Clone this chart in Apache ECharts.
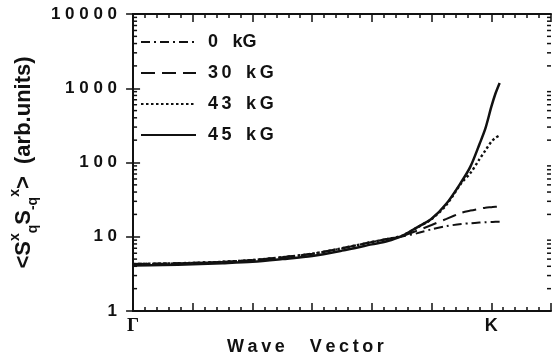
<!DOCTYPE html>
<html>
<head>
<meta charset="utf-8">
<script src="https://cdn.jsdelivr.net/npm/echarts@6.0.0/dist/echarts.min.js"></script>
<style>
  html, body { margin: 0; padding: 0; background: #fff; }
  #main { width: 557px; height: 360px; }
</style>
</head>
<body>
<div id="main"></div>
<script>
// wave vector position, Γ = 0, K = 6
var waveVector = [0, 0.5, 1, 1.5, 2, 2.5, 3, 3.5, 4, 4.25, 4.5, 4.75, 5, 5.25, 5.5, 5.65, 5.8, 5.9, 6.0, 6.07, 6.14];
// <SqxS-qx> (arb.units) for each field
var field0 = [4.3, 4.35, 4.45, 4.6, 4.85, 5.3, 5.9, 7.0, 8.5, 9.3, 10.1, 11.1, 12.6, 13.9, 14.9, 15.2, 15.5, 15.7, 15.8, 15.9, 15.9];
var field30 = [4.3, 4.35, 4.45, 4.6, 4.85, 5.3, 5.9, 7.0, 8.5, 9.3, 10.2, 12.0, 14.4, 17.4, 21, 22.5, 23.8, 24.6, 25.0, 25.3, 25.4];
var field43 = [4.3, 4.35, 4.45, 4.6, 4.85, 5.3, 5.9, 7.0, 8.5, 9.3, 10.3, 13.2, 17.3, 27, 53, 72, 110, 145, 190, 215, 232];
var field45 = [4.1, 4.15, 4.25, 4.4, 4.6, 5.0, 5.5, 6.5, 7.9, 8.7, 10.2, 13.3, 17.5, 28, 55, 88, 175, 285, 560, 850, 1180];
var seriesNames = ['0\u2009\u2009\u2009\u2009kG', '3\u20090\u2009\u2009\u2009\u2009k\u2009G', '4\u20093\u2009\u2009\u2009\u2009k\u2009G', '4\u20095\u2009\u2009\u2009\u2009k\u2009G'];
// log minor ticks on the y frame
var logMinorTicks = [2, 3, 4, 5, 6, 7, 8, 9, 20, 30, 40, 50, 60, 70, 80, 90,
  200, 300, 400, 500, 600, 700, 800, 900, 2000, 3000, 4000, 5000, 6000, 7000, 8000, 9000];

var ink = '#111';
var font = 'Liberation Sans';

function pairs(ys) {
  return waveVector.map(function (x, i) { return [x, ys[i]]; });
}

var chart = echarts.init(document.getElementById('main'));

var xBase = {
  type: 'value', min: 0, max: 7, interval: 1,
  axisLine: { lineStyle: { color: ink, width: 2 } },
  axisTick: { inside: true, length: 8, lineStyle: { color: ink, width: 1.5 } },
  minorTick: { show: true, splitNumber: 5, length: 4, lineStyle: { color: ink, width: 1.5 } },
  splitLine: { show: false }
};
var yBase = {
  type: 'log', logBase: 10, min: 1, max: 10000,
  axisLine: { lineStyle: { color: ink, width: 2 } },
  axisTick: { inside: true, length: 7, lineStyle: { color: ink, width: 1.5 } },
  splitLine: { show: false }
};

var lineStyles = [
  { type: [9, 4, 2, 4], width: 2 },
  { type: [14, 7], width: 2 },
  { type: [2.5, 2.5], width: 2.4 },
  { type: 'solid', width: 2.5 }
];
var fieldData = [field0, field30, field43, field45];

var series = fieldData.map(function (d, i) {
  return {
    name: seriesNames[i],
    type: 'line',
    data: pairs(d),
    smooth: 0.3,
    symbol: 'none',
    lineStyle: { color: ink, width: lineStyles[i].width, type: lineStyles[i].type },
    itemStyle: { color: ink }
  };
});

series.push({
  type: 'custom',
  silent: true,
  data: logMinorTicks.map(function (v) { return [0, v]; }),
  renderItem: function (params, api) {
    var v = api.value(1);
    var l = api.coord([0, v]);
    var r = api.coord([7, v]);
    return {
      type: 'group',
      children: [
        { type: 'line', shape: { x1: l[0], y1: l[1], x2: l[0] + 4, y2: l[1] }, style: { stroke: ink, lineWidth: 1.5 } },
        { type: 'line', shape: { x1: r[0], y1: r[1], x2: r[0] - 4, y2: r[1] }, style: { stroke: ink, lineWidth: 1.5 } }
      ]
    };
  }
});

chart.setOption({
  animation: false,
  backgroundColor: '#fff',
  grid: { left: 121, top: 14, width: 430, height: 297 },
  legend: {
    orient: 'vertical', left: 135, top: 28,
    itemWidth: 55, itemHeight: 14, itemGap: 13,
    itemStyle: { opacity: 0 },
    textStyle: { fontSize: 18, fontWeight: 'bold', color: ink, fontFamily: font, padding: [0, 0, 0, 7] },
    data: seriesNames
  },
  xAxis: [
    Object.assign({}, xBase, {
      position: 'bottom',
      axisLabel: {
        margin: 6, fontSize: 18, fontWeight: 'bold', color: ink, fontFamily: font,
        formatter: function (v) { return v === 0 ? '{g|Γ}' : (v === 6 ? 'K' : ''); },
        rich: { g: { fontFamily: 'Liberation Serif', fontSize: 19, color: ink } }
      }
    }),
    Object.assign({}, xBase, { position: 'top', axisLabel: { show: false } })
  ],
  yAxis: [
    Object.assign({}, yBase, {
      position: 'left',
      axisLabel: {
        margin: 16, fontSize: 17, fontWeight: 'bold', color: ink, fontFamily: font,
        formatter: function (v) { return String(Math.round(v)).split('').join(' '); }
      },
      name: '{m|<S}{sup|x}{sub|q}{m|S}{sub|-q}{sup|x}{m|>  (arb.units)}',
      nameLocation: 'middle',
      nameRotate: 90,
      nameGap: 80,
      nameTextStyle: {
        rich: {
          m: { fontSize: 22, fontWeight: 'bold', color: ink, fontFamily: font, lineHeight: 32 },
          sup: { fontSize: 14, fontWeight: 'bold', color: ink, fontFamily: font, lineHeight: 32, verticalAlign: 'top' },
          sub: { fontSize: 14, fontWeight: 'bold', color: ink, fontFamily: font, lineHeight: 32, verticalAlign: 'bottom' }
        }
      }
    }),
    Object.assign({}, yBase, { position: 'right', axisLabel: { show: false } })
  ],
  graphic: [{
    type: 'text', left: 227, top: 338,
    style: {
      text: 'W\u2009a\u2009v\u2009e     V\u2009e\u2009c\u2009t\u2009o\u2009r',
      fontSize: 18, fontWeight: 'bold', fill: ink, fontFamily: font
    }
  }],
  series: series
});
</script>
</body>
</html>
